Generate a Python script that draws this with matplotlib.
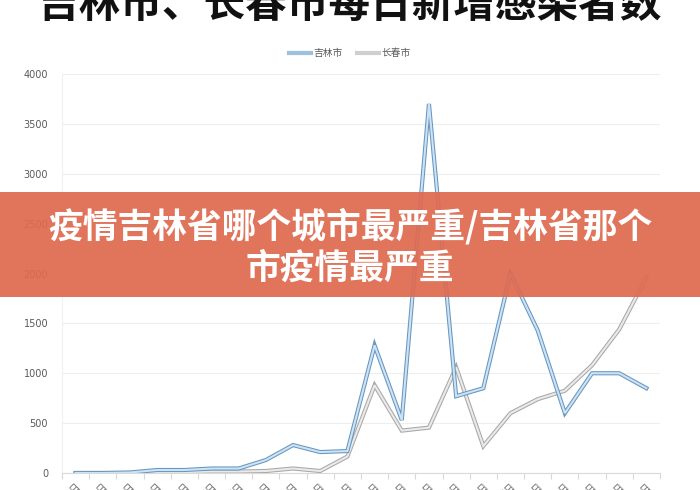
import matplotlib
matplotlib.use("Agg")
import matplotlib.pyplot as plt
from matplotlib.patches import Rectangle
from matplotlib.ticker import FixedLocator
from matplotlib.lines import Line2D

plt.rcParams['font.family'] = ['Noto Sans CJK SC', 'DejaVu Sans']

# ---- data ----
dates = [f"3月{d}日" for d in range(1, 23)]
jilin = [0, 0, 5, 30, 30, 45, 45, 130, 280, 210, 220, 1280, 530, 3700,
         770, 850, 2000, 1430, 600, 1000, 1000, 850]
changchun = [0, 0, 0, 5, 10, 15, 15, 20, 45, 20, 165, 880, 425, 455,
             1060, 270, 600, 740, 825, 1080, 1440, 1960]
series_names = ["吉林市", "长春市"]
title_text = "吉林市、长春市每日新增感染者数"
banner_text = "疫情吉林省哪个城市最严重/吉林省那个\n市疫情最严重"
yticks = [0, 500, 1000, 1500, 2000, 2500, 3000, 3500, 4000]

fig = plt.figure(figsize=(7, 4.9), dpi=100)
ax = fig.add_axes([62/700, 1-473/490, (660-62)/700, (473-74)/490])

x = list(range(len(dates)))
# gray series (outline + light inner)
ax.plot(x, changchun, color="#A8A8A8", lw=3.0, solid_joinstyle='miter', zorder=3)
ax.plot(x, changchun, color="#EAEAEA", lw=1.5, solid_joinstyle='miter', zorder=4)
# blue series
ax.plot(x, jilin, color="#6597C3", lw=3.0, solid_joinstyle='miter', zorder=5)
ax.plot(x, jilin, color="#CFE2F1", lw=1.5, solid_joinstyle='miter', zorder=6)

ax.set_xlim(-0.5, len(dates) - 0.5)
ax.set_ylim(0, 4000)
ax.set_yticks(yticks)
ax.set_yticklabels([str(v) for v in yticks], fontsize=7, color="#595959",
                   family=['Liberation Sans Narrow', 'DejaVu Sans'])
ax.tick_params(axis='y', length=0, pad=10)
ax.grid(axis='y', color="#EEEEEE", lw=0.8)
ax.set_axisbelow(True)

ax.set_xticks(x)
ax.set_xticklabels(dates, rotation=45, ha='right', va='top',
                   rotation_mode='anchor', fontsize=7, color="#6A6A6A")
ax.tick_params(axis='x', which='major', length=0, pad=6)
ax.xaxis.set_minor_locator(FixedLocator([i + 0.5 for i in range(-1, len(dates))]))
ax.tick_params(axis='x', which='minor', length=4, color="#D9D9D9", width=0.8)

for s in ['top', 'right']:
    ax.spines[s].set_visible(False)
ax.spines['left'].set_color("#F0F0F0")
ax.spines['bottom'].set_color("#D9D9D9")
ax.spines['bottom'].set_linewidth(0.8)

# legend
handles = [Line2D([0], [0], color="#9DC2DF", lw=3),
           Line2D([0], [0], color="#CFCFCF", lw=3)]
fig.legend(handles, series_names, loc='center', bbox_to_anchor=(0.5, 1-53/490),
           ncol=2, frameon=False, fontsize=7, labelcolor="#595959",
           handlelength=2.2, columnspacing=1.5, handletextpad=0.3)

# big title (cut at top)
fig.text(0.5, 1-5/490, title_text, ha='center', va='center', fontsize=30,
         fontweight='black', color="#111111")

# banner overlay
fig.patches.append(Rectangle((0, 1-297/490), 1, 105/490, transform=fig.transFigure,
                             facecolor="#DE6A50", alpha=0.93, edgecolor='none',
                             zorder=10))
fig.text(0.5, 1-247/490, banner_text, ha='center', va='center', fontsize=25,
         fontweight='black', color="white", linespacing=1.2, zorder=11)

fig.savefig("out.png", dpi=100)
